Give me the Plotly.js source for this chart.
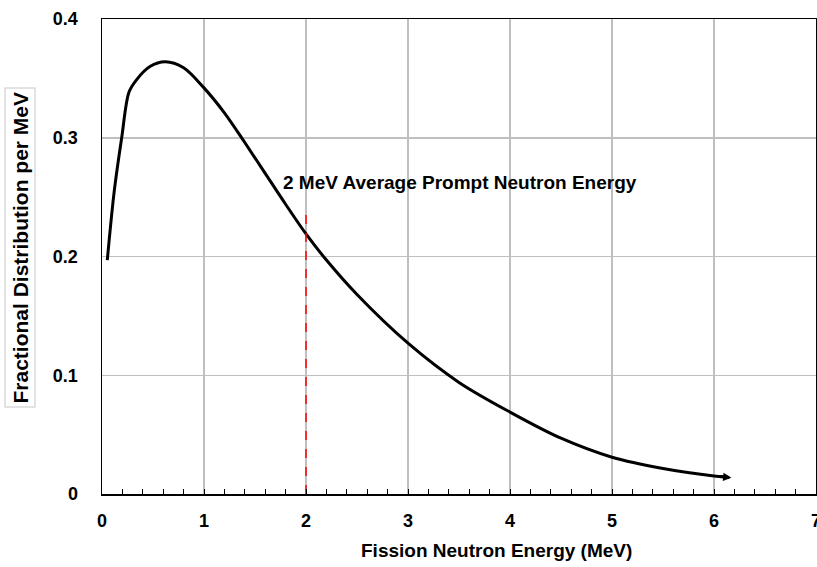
<!DOCTYPE html>
<html>
<head>
<meta charset="utf-8">
<script src="https://cdn.plot.ly/plotly-3.0.1.min.js"></script>
<style>html,body{margin:0;padding:0;background:#fff;}#chart{width:817px;height:567px;}</style>
</head>
<body>
<div id="chart"></div>
<script>
// Fission neutron energy spectrum (MeV) vs fractional distribution per MeV
const energy = [0.052, 0.12, 0.193, 0.265, 0.34, 0.47, 0.62, 0.8, 1.0, 1.2, 1.4, 1.6, 1.8, 2.0, 2.2, 2.5, 3.0, 3.5, 4.0, 4.5, 5.0, 5.5, 6.0, 6.1];
const fraction = [0.197, 0.255, 0.300, 0.3385, 0.349, 0.360, 0.364, 0.359, 0.342, 0.321, 0.296, 0.270, 0.244, 0.219, 0.197, 0.168, 0.127, 0.094, 0.069, 0.047, 0.031, 0.0215, 0.0152, 0.0145];
const arrowTail = [6.04, 0.0148];
const arrowTip = [6.17, 0.0137];
const avgEnergy = [2, 2];
const avgLine = [0, 0.24];
const avgLabel = "2 MeV Average Prompt Neutron Energy";
const avgLabelPos = [3.51, 0.262];
const xTitle = "Fission Neutron Energy (MeV)";
const yTitle = "Fractional Distribution per MeV";

const font = "Liberation Sans, Arial, sans-serif";

const traces = [
  {x: energy, y: fraction, mode: 'lines', line: {color: '#000', width: 3, shape: 'spline', smoothing: 0.9}},
  {x: avgEnergy, y: avgLine, mode: 'lines', line: {color: '#ff0000', width: 1.5, dash: 'dash'}}
];

const layout = {
  width: 817, height: 567,
  margin: {l: 102, r: 1, t: 19, b: 73},
  paper_bgcolor: '#fff', plot_bgcolor: '#fff',
  showlegend: false,
  font: {family: font, color: '#000'},
  xaxis: {
    range: [0, 7], dtick: 1, tick0: 0,
    showgrid: true, gridcolor: '#bfbfbf', gridwidth: 1.5,
    zeroline: false, showline: true, linecolor: '#000', linewidth: 1.5, mirror: true,
    ticks: 'inside', ticklen: 5, tickcolor: '#000', tickwidth: 1,
    minor: {dtick: 0.2, ticks: 'inside', ticklen: 5, tickcolor: '#000', showgrid: false},
    tickfont: {size: 18, family: font, weight: 'bold'},
    ticklabelstandoff: 10,
    ticklabeloverflow: 'allow'
  },
  yaxis: {
    range: [0, 0.4], dtick: 0.1, tick0: 0,
    showgrid: true, gridcolor: '#bfbfbf', gridwidth: 1.5,
    zeroline: false, showline: true, linecolor: '#000', linewidth: 1.5, mirror: true,
    ticks: '', tickfont: {size: 18, family: font, weight: 'bold'},
    ticklabelstandoff: 19
  },
  annotations: [
    {x: arrowTip[0], y: arrowTip[1], xref: 'x', yref: 'y',
     ax: arrowTail[0], ay: arrowTail[1], axref: 'x', ayref: 'y',
     showarrow: true, arrowhead: 2, arrowsize: 0.55, arrowwidth: 3, arrowcolor: '#000', text: ''},
    {x: avgLabelPos[0], y: avgLabelPos[1], xref: 'x', yref: 'y', text: avgLabel, showarrow: false,
     font: {size: 19, family: font, weight: 'bold', color: '#000'}},
    {x: 0.552, y: 0, xref: 'paper', yref: 'paper', yshift: -56, yanchor: 'middle',
     text: xTitle, showarrow: false, font: {size: 19, family: font, weight: 'bold', color: '#000'}},
    {x: 0, y: 0.5, xref: 'paper', yref: 'paper', xanchor: 'center', yanchor: 'middle',
     xshift: -82, yshift: 9,
     text: yTitle, textangle: -90, showarrow: false,
     bordercolor: '#c8c8c8', borderwidth: 1, borderpad: 3,
     font: {size: 21, family: font, weight: 'bold', color: '#000'}}
  ]
};

Plotly.newPlot('chart', traces, layout, {displayModeBar: false, staticPlot: true});
</script>
</body>
</html>
